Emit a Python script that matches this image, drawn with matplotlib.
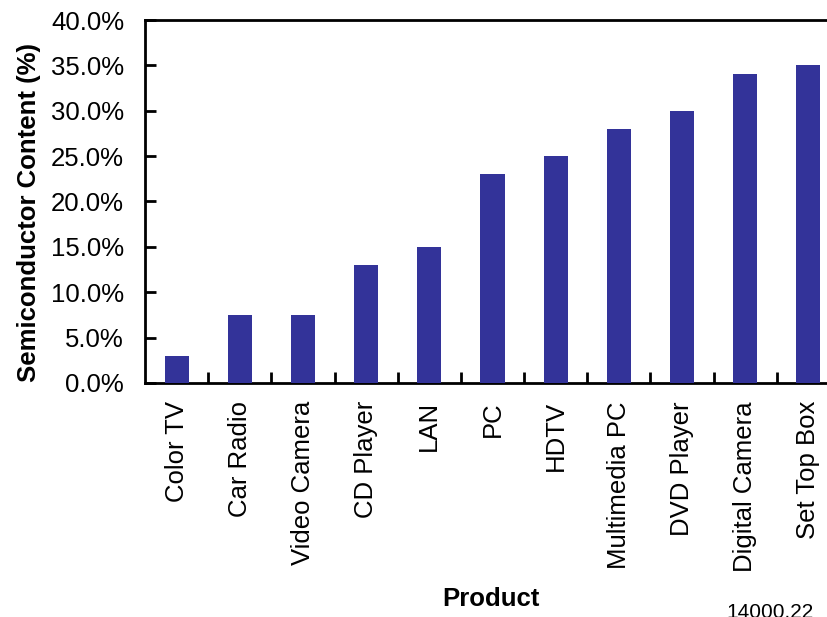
import matplotlib
matplotlib.use("Agg")
import matplotlib.pyplot as plt
from matplotlib.ticker import FuncFormatter, FixedLocator

plt.rcParams['font.family'] = ['Liberation Sans', 'DejaVu Sans']

products = ["Color TV", "Car Radio", "Video Camera", "CD Player", "LAN", "PC",
            "HDTV", "Multimedia PC", "DVD Player", "Digital Camera", "Set Top Box"]
content = [3.0, 7.5, 7.5, 13.0, 15.0, 23.0, 25.0, 28.0, 30.0, 34.0, 35.0]
yticks = [0, 5, 10, 15, 20, 25, 30, 35, 40]

W, H = 828, 617
fig = plt.figure(figsize=(W / 100, H / 100), dpi=100)
x0, x1 = 145, 840
y0, y1 = 383, 20
ax = fig.add_axes([x0 / W, 1 - y0 / H, (x1 - x0) / W, (y0 - y1) / H])

pos = list(range(len(products)))
ax.bar(pos, content, width=0.38, color="#333399", zorder=3)
ax.set_xlim(-0.5, len(products) - 0.5)
ax.set_ylim(0, 40)
ax.set_yticks(yticks)
ax.yaxis.set_major_formatter(FuncFormatter(lambda v, p: f"{v:.1f}%"))
ax.set_xticks(pos)
ax.set_xticklabels(products, rotation=90, fontsize=18.5)
ax.xaxis.set_minor_locator(FixedLocator([p + 0.5 for p in pos[:-1]]))
ax.tick_params(axis='x', which='major', length=0, pad=13)
ax.tick_params(axis='x', which='minor', direction='in', length=8, width=2)
ax.tick_params(axis='y', direction='in', length=8, width=2, labelsize=18.5, pad=15)

for s in ['left', 'bottom', 'top']:
    ax.spines[s].set_linewidth(2)
ax.spines['right'].set_visible(False)

fig.text(29 / W, 1 - 212 / H, "Semiconductor Content (%)", fontsize=18.5,
         fontweight='bold', rotation=90, ha='center', va='center')
fig.text(491 / W, 1 - 599 / H, "Product", fontsize=18.5, fontweight='bold',
         ha='center', va='center')
fig.text(770 / W, 1 - 603 / H, "14000.22", fontsize=15, ha='center', va='top')

fig.savefig("out.png", dpi=100)
